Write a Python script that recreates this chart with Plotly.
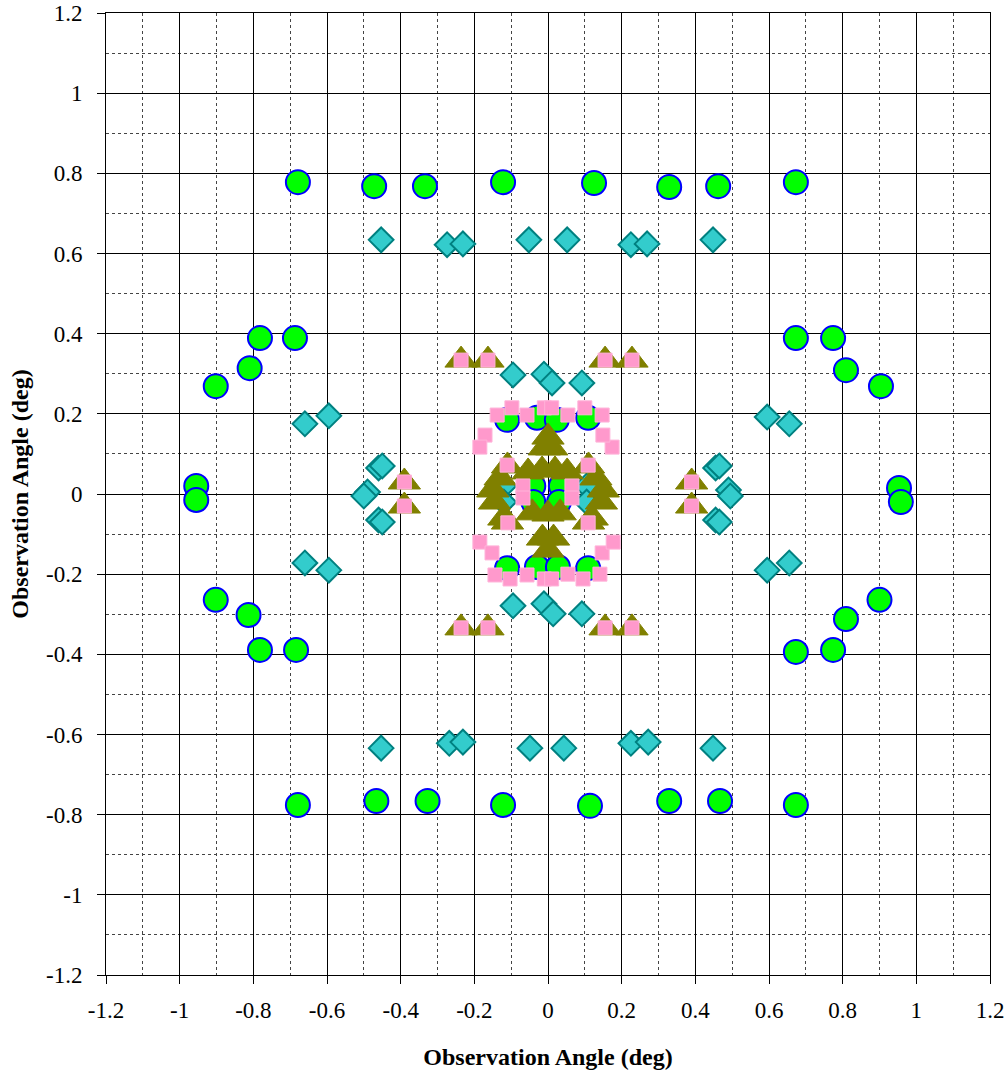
import plotly.graph_objects as go

# Axis ticks
tick_vals = [-1.2, -1.0, -0.8, -0.6, -0.4, -0.2, 0.0, 0.2, 0.4, 0.6, 0.8, 1.0, 1.2]
tick_text = ["-1.2", "-1", "-0.8", "-0.6", "-0.4", "-0.2", "0", "0.2", "0.4", "0.6", "0.8", "1", "1.2"]

# Series 1: green circles
circle_x = [-0.679, -0.472, -0.334, -0.122, 0.125, 0.329, 0.462, 0.673,
            -0.679, -0.466, -0.327, -0.122, 0.114, 0.329, 0.467, 0.673,
            -0.782, -0.687, -0.81, -0.902, -0.955, -0.955, -0.902, -0.813, -0.782, -0.684,
            0.673, 0.774, 0.809, 0.904, 0.953, 0.958, 0.9, 0.809, 0.774, 0.673,
            -0.111, -0.03, 0.024, 0.109,
            -0.04, 0.035, -0.04, 0.03,
            -0.111, -0.03, 0.027, 0.109]
circle_y = [0.778, 0.768, 0.768, 0.778, 0.776, 0.766, 0.768, 0.778,
            -0.776, -0.766, -0.766, -0.776, -0.778, -0.766, -0.766, -0.776,
            0.389, 0.389, 0.314, 0.269, 0.02, -0.015, -0.264, -0.302, -0.389, -0.389,
            0.389, 0.389, 0.309, 0.269, 0.015, -0.02, -0.264, -0.312, -0.389, -0.394,
            0.185, 0.19, 0.185, 0.19,
            0.02, 0.02, -0.02, -0.02,
            -0.185, -0.182, -0.182, -0.185]

# Series 2: cyan diamonds
diamond_x = [-0.453, -0.274, -0.231, -0.052, 0.052, 0.225, 0.269, 0.448,
             -0.453, -0.268, -0.231, -0.049, 0.043, 0.225, 0.272, 0.448,
             -0.66, -0.595, -0.46, -0.45, -0.49, -0.5, -0.46, -0.45, -0.66, -0.595,
             0.595, 0.655, 0.455, 0.465, 0.49, 0.495, 0.455, 0.465, 0.595, 0.655,
             -0.095, -0.011, 0.011, 0.092,
             -0.095, -0.011, 0.014, 0.092,
             -0.12, -0.12, 0.105, 0.105]
diamond_y = [0.634, 0.622, 0.624, 0.634, 0.634, 0.622, 0.624, 0.634,
             -0.634, -0.622, -0.619, -0.634, -0.634, -0.622, -0.619, -0.634,
             0.175, 0.195, 0.065, 0.07, 0.005, -0.005, -0.065, -0.07, -0.172, -0.19,
             0.192, 0.175, 0.065, 0.07, 0.01, -0.005, -0.065, -0.07, -0.19, -0.172,
             0.297, 0.299, 0.277, 0.277,
             -0.279, -0.274, -0.299, -0.299,
             0.02, -0.02, 0.02, -0.02]

# Series 4: olive triangles
tri_x = [-0.236, -0.163, 0.155, 0.228,
         -0.236, -0.163, 0.155, 0.228,
         -0.39, -0.39, 0.39, 0.39,
         0.0, -0.01, 0.01,
         -0.054, -0.016, 0.019, 0.052,
         -0.13, -0.15, -0.145, -0.12,
         0.13, 0.15, 0.145, 0.12,
         -0.11, 0.11, -0.11, 0.11,
         -0.043, 0.0, 0.033,
         -0.015, 0.015, 0.0]
tri_y = [0.334, 0.334, 0.334, 0.334,
         -0.334, -0.334, -0.334, -0.334,
         0.03, -0.03, 0.03, -0.03,
         0.142, 0.115, 0.115,
         0.055, 0.06, 0.06, 0.055,
         0.04, 0.01, -0.02, -0.06,
         0.04, 0.01, -0.02, -0.06,
         0.07, 0.07, -0.07, -0.07,
         -0.047, -0.05, -0.047,
         -0.11, -0.11, -0.14]

# Series 3: pink squares
square_x = [-0.236, -0.163, 0.155, 0.228,
            -0.236, -0.163, 0.155, 0.228,
            -0.39, -0.39, 0.39, 0.39,
            -0.138, -0.098, -0.057, -0.01, 0.01, 0.054, 0.1, 0.147,
            -0.171, -0.185, 0.174, 0.149,
            -0.111, 0.109, -0.068, -0.068, 0.065, 0.065, -0.109, 0.109,
            -0.185, -0.152, -0.144, -0.103, -0.057, -0.01, 0.01, 0.054, 0.095, 0.141, 0.147, 0.177]
square_y = [0.334, 0.334, 0.334, 0.334,
            -0.334, -0.334, -0.334, -0.334,
            0.03, -0.03, 0.03, -0.03,
            0.197, 0.215, 0.197, 0.215, 0.215, 0.197, 0.215, 0.197,
            0.147, 0.117, 0.117, 0.147,
            0.072, 0.072, 0.02, -0.01, 0.02, -0.01, -0.072, -0.072,
            -0.12, -0.147, -0.202, -0.212, -0.202, -0.212, -0.212, -0.2, -0.212, -0.2, -0.147, -0.12]

fig = go.Figure()
fig.add_trace(go.Scatter(x=circle_x, y=circle_y, mode="markers", name="circles",
                         marker=dict(symbol="circle", size=24, color="#00FF00",
                                     line=dict(color="#0000FF", width=2))))
fig.add_trace(go.Scatter(x=diamond_x, y=diamond_y, mode="markers", name="diamonds",
                         marker=dict(symbol="diamond", size=19, color="#33CCCC",
                                     line=dict(color="#008080", width=2))))
fig.add_trace(go.Scatter(x=tri_x, y=tri_y, mode="markers", name="triangles",
                         marker=dict(symbol="triangle-up", size=28, color="#808000",
                                     line=dict(color="#808000", width=1))))
fig.add_trace(go.Scatter(x=square_x, y=square_y, mode="markers", name="squares",
                         marker=dict(symbol="square", size=14, color="#FF99CC",
                                     line=dict(color="#FFB3D9", width=1))))

font_serif = dict(family="Liberation Serif, Times New Roman, serif", size=23, color="#000000")
font_title = dict(family="Liberation Serif, Times New Roman, serif", size=24, color="#000000")
axis_common = dict(
    range=[-1.2, 1.2], tickmode="array", tickvals=tick_vals, ticktext=tick_text,
    showgrid=True, gridcolor="#000000", gridwidth=1,
    zeroline=False, showline=True, linecolor="#000000", linewidth=1, mirror=True,
    ticks="outside", ticklen=8, tickcolor="#000000", tickfont=font_serif,
    minor=dict(dtick=0.1, tick0=0, showgrid=True, gridcolor="#444444",
               griddash="3px,3px", gridwidth=1),
)
fig.update_xaxes(**axis_common, ticklabelstandoff=6,
                 title=dict(text="<b>Observation Angle (deg)</b>", standoff=26,
                            font=font_title))
fig.update_yaxes(**axis_common, ticklabelstandoff=10,
                 title=dict(text="<b>Observation Angle (deg)</b>", standoff=10,
                            font=font_title))
fig.update_layout(width=1008, height=1072, showlegend=False,
                  plot_bgcolor="#FFFFFF", paper_bgcolor="#FFFFFF",
                  margin=dict(l=106, r=18, t=13, b=97, autoexpand=False))
fig.write_html("out.html", config={"displayModeBar": False},
               post_script="document.body.style.margin='0';document.body.style.padding='0';")
